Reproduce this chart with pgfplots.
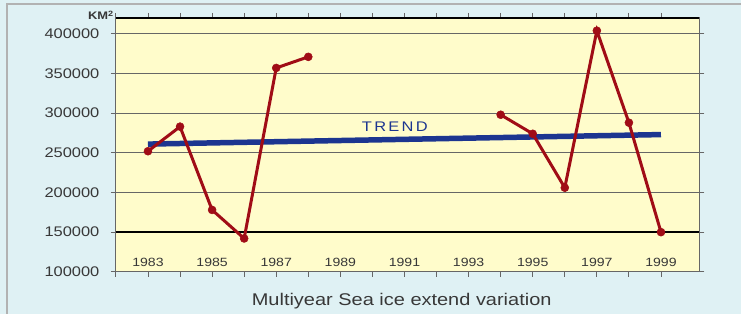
\documentclass[border=0pt]{standalone}
\usepackage{pgfplots}
\pgfplotsset{compat=1.18}
\usepackage{fontspec}
\setmainfont{Liberation Sans}[FakeStretch=1.18]
\definecolor{bgblue}{HTML}{DFF1F4}
\definecolor{plotyellow}{HTML}{FFFCCB}
\definecolor{linered}{HTML}{A00C16}
\definecolor{trendblue}{HTML}{1C3590}
\definecolor{gridgray}{HTML}{666666}
\definecolor{txtgray}{HTML}{383838}
\begin{document}
\begin{tikzpicture}[x=1bp,y=1bp]
\fill[bgblue] (0,0) rectangle (742,314);
\draw[gray!60, line width=1.2bp] (7,0) -- (7,310) -- (742,310);
\begin{axis}[
  at={(116bp,42bp)}, anchor=south west,
  width=584bp, height=254bp, scale only axis,
  xmin=1982, xmax=2000.2, ymin=100000, ymax=420000,
  axis background/.style={fill=plotyellow},
  axis line style={gridgray, line width=1bp},
  tick align=outside,
  major tick length=5bp, minor tick length=5bp,
  tick style={gridgray, line width=0.9bp},
  xtick={1983,1985,...,1999},
  minor xtick={1982,1984,...,1998},
  ytick={100000,150000,...,400000},
  ymajorgrids, grid style={gridgray, line width=1bp},
  scaled y ticks=false,
  xticklabel style={/pgf/number format/.cd, fixed, precision=0, assume math mode=true, 1000 sep={}, /tikz/.cd, font=\fontsize{12}{12}\selectfont, text=txtgray, anchor=south, yshift=7bp},
  yticklabel style={/pgf/number format/.cd, fixed, precision=0, assume math mode=true, 1000 sep={}, /tikz/.cd, font=\fontsize{14}{14}\selectfont, text=txtgray, xshift=-8bp},
  clip=false,
]
\addplot[black, line width=1.3bp, forget plot] coordinates {(1982,150000) (2000.2,150000)};
\addplot[black, line width=1.3bp, forget plot] coordinates {(1982,420000) (2000.2,420000)};
\addplot[trendblue, line width=5.5bp] coordinates {(1983,261000) (1999,273000)};
\addplot[linered, line width=3bp, mark=*, mark size=4bp, mark options={fill=linered, draw=linered, line width=0.5bp}] coordinates {
(1983,252000) (1984,283000) (1985,178000) (1986,142000) (1987,357000) (1988,371000)};
\addplot[linered, line width=3bp, mark=*, mark size=4bp, mark options={fill=linered, draw=linered, line width=0.5bp}] coordinates {
(1994,298000) (1995,274000) (1996,206000) (1997,404000) (1998,288000) (1999,150000)};
\node[trendblue, font=\fontsize{14}{14}\selectfont] at (axis cs:1990.7,282800) {T\,R\,E\,N\,D};
\end{axis}
\node[anchor=base east, text=txtgray, font=\fontsize{11}{11}\selectfont\bfseries, inner sep=0pt] at (114,294) {KM\textsuperscript{2}};
\node[anchor=base, text=txtgray, font=\fontsize{17}{17}\selectfont, inner sep=0pt] at (402,8) {Multiyear Sea ice extend variation};
\end{tikzpicture}
\end{document}
